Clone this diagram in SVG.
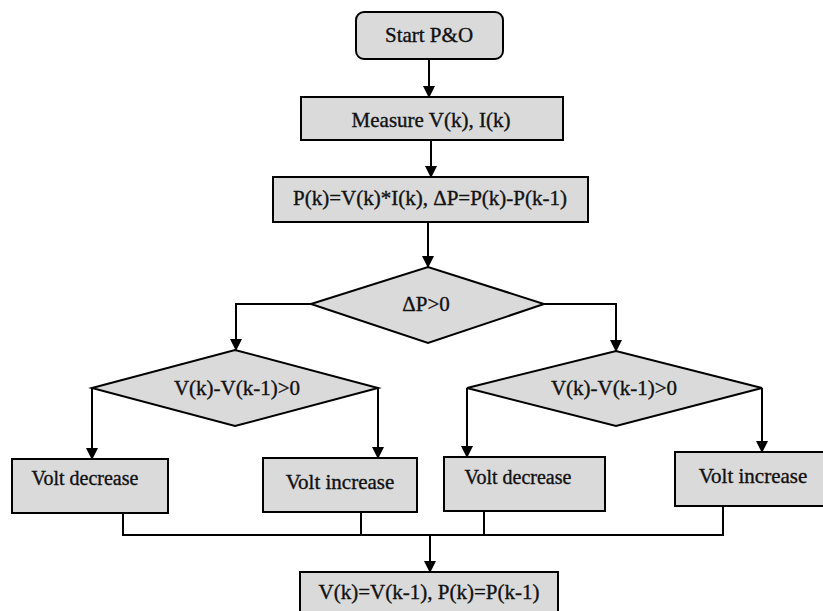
<svg xmlns="http://www.w3.org/2000/svg" width="823" height="611" viewBox="0 0 823 611">
<style>
.box{fill:#dadada;stroke:#000;stroke-width:2}
.t{font-family:"Liberation Serif","Times New Roman",serif;font-size:21px;fill:#111;stroke:#111;stroke-width:0.35;text-anchor:middle}
.c{fill:none;stroke:#000;stroke-width:2}
</style>
<defs>
<marker id="ah" markerWidth="12" markerHeight="12" refX="11" refY="6" orient="auto" markerUnits="userSpaceOnUse">
<path d="M0,0 L12,6 L0,12 Z" fill="#000"/>
</marker>
</defs>
<rect width="823" height="611" fill="#fff"/>
<g id="connectors">
<path class="c" d="M429,59 V97" marker-end="url(#ah)"/>
<path class="c" d="M431,140 V177" marker-end="url(#ah)"/>
<path class="c" d="M428,222 V267" marker-end="url(#ah)"/>
<path class="c" d="M311,304 H236 V350" marker-end="url(#ah)"/>
<path class="c" d="M544,304 H616 V351" marker-end="url(#ah)"/>
<path class="c" d="M92,388 V459" marker-end="url(#ah)"/>
<path class="c" d="M378,388 V458" marker-end="url(#ah)"/>
<path class="c" d="M467,388 V457" marker-end="url(#ah)"/>
<path class="c" d="M762,388 V452" marker-end="url(#ah)"/>
<path class="c" d="M123,513 V535 H723 V506 M361,512 V535 M484,511 V535"/>
<path class="c" d="M430,535 V572" marker-end="url(#ah)"/>
</g>
<g id="start">
<rect class="box" x="356" y="12" width="147" height="47" rx="8"/>
<text class="t" x="429" y="42">Start P&amp;O</text>
</g>
<g id="measure">
<rect class="box" x="301" y="97" width="262" height="43"/>
<text class="t" x="431" y="127">Measure V(k), I(k)</text>
</g>
<g id="power">
<rect class="box" x="273" y="177" width="315" height="45"/>
<text class="t" x="430" y="205">P(k)=V(k)*I(k), ΔP=P(k)-P(k-1)</text>
</g>
<g id="dp">
<polygon class="box" points="311,304 428,267 544,304 428,343"/>
<text class="t" x="426" y="311">ΔP&gt;0</text>
</g>
<g id="dv-left">
<polygon class="box" points="92,388 235,350 378,388 235,426"/>
<text class="t" x="237" y="395">V(k)-V(k-1)&gt;0</text>
</g>
<g id="dv-right">
<polygon class="box" points="467,388 616,351 762,388 616,426"/>
<text class="t" x="614" y="395">V(k)-V(k-1)&gt;0</text>
</g>
<g id="left-dec">
<rect class="box" x="12" y="459" width="156" height="54"/>
<text class="t" x="85" y="485" style="font-size:20px">Volt decrease</text>
</g>
<g id="left-inc">
<rect class="box" x="263" y="458" width="154" height="54"/>
<text class="t" x="340" y="489">Volt increase</text>
</g>
<g id="right-dec">
<rect class="box" x="444" y="457" width="161" height="54"/>
<text class="t" x="518" y="484" style="font-size:20px">Volt decrease</text>
</g>
<g id="right-inc">
<rect class="box" x="675" y="452" width="160" height="54"/>
<text class="t" x="753" y="483">Volt increase</text>
</g>
<g id="update">
<rect class="box" x="300" y="572" width="258" height="50"/>
<text class="t" x="429" y="599">V(k)=V(k-1), P(k)=P(k-1)</text>
</g>
</svg>
